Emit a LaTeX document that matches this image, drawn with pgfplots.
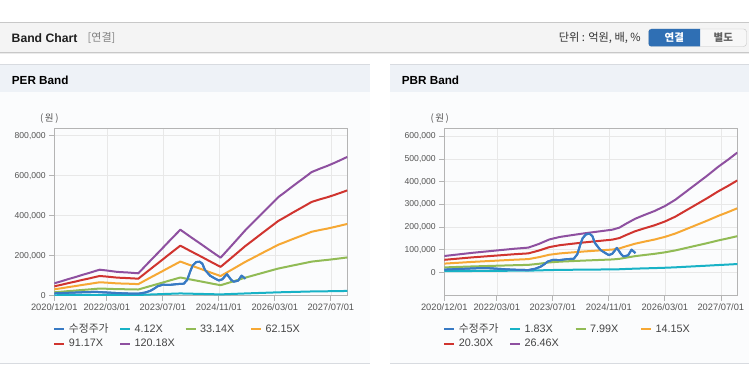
\documentclass[border=0pt]{standalone}
\usepackage{pgfplots}
\usepackage{pgfplotstable}
\pgfplotsset{compat=1.18}
\usepackage{fontspec}
\setmainfont{Liberation Sans}
\newfontfamily\kr{Noto Sans CJK KR}

\definecolor{pblue}{HTML}{387AC4}
\definecolor{pcyan}{HTML}{18B2C6}
\definecolor{pgreen}{HTML}{91BB55}
\definecolor{porange}{HTML}{F6A834}
\definecolor{pred}{HTML}{D0342F}
\definecolor{ppurple}{HTML}{8E50A0}
\definecolor{gridc}{HTML}{E8E8E8}
\definecolor{framec}{HTML}{B4B4B4}
\definecolor{tickc}{HTML}{555555}
\definecolor{legc}{HTML}{444444}
\definecolor{hdrbg}{HTML}{F4F4F4}
\definecolor{hdrline}{HTML}{C8C8C8}
\definecolor{panelhdr}{HTML}{EEF2F7}
\definecolor{panelbg}{HTML}{FBFCFD}
\definecolor{panelline}{HTML}{D8DBE0}
\definecolor{btnblue}{HTML}{2F6FB4}
\definecolor{btnborder}{HTML}{C4C4C4}

\pgfplotstableread{
m c g o r p
0 2100 17100 32100 47000 62000
2 2500 19900 37200 54600 72000
4 2800 22900 42900 63000 83000
6 3200 25600 48100 70600 93000
8 3600 28700 53800 78900 104000
10 3900 31400 59000 86500 114000
12 4300 34500 64600 94800 125000
13 4500 35800 67200 98600 130000
15 4300 34700 65200 95600 126000
18 4100 32800 61500 90300 119000
21 4000 32000 60000 88000 116000
24 3800 30900 57900 85000 112000
27 5700 46100 86400 126700 167000
30 7600 60900 114300 167700 221000
33 9500 76100 142700 209400 276000
36 11300 91000 170700 250300 330000
39 10000 80800 151500 222300 293000
42 8800 70900 132900 195000 257000
45 7500 60700 113800 166900 220000
47.5 6500 52400 98300 144100 190000
50 8200 65600 123100 180500 238000
52 9500 76400 143200 210100 277000
54.5 11200 89900 168600 247300 326000
57 12700 102000 191300 280700 370000
60 14500 116600 218800 320900 423000
62 15700 126300 236800 347400 458000
64 16900 135900 254900 374000 493000
66 17800 143100 268400 393700 519000
68 18700 150600 282400 414200 546000
70 19600 157700 295800 433900 572000
72 20500 164900 309200 453600 598000
73.5 21200 170400 319600 468800 618000
76 21800 175400 328900 482500 636000
78 22200 179000 335600 492300 649000
80 22800 183100 343400 503700 664000
82 23300 187500 351700 515900 680000
83.7 23800 191400 358900 526500 694000
}\pertable

\pgfplotstableread{
m c g o r p
0 5000 21700 38500 55200 72000
4 5500 23900 42200 60600 79000
8 5900 26000 46000 66000 86000
12 6400 27800 49200 70600 92000
16 6800 29600 52400 75200 98000
20 7200 31400 55600 79800 104000
24 7500 32900 58300 83600 109000
27 8600 37700 66800 95900 125000
30 10000 43800 77500 111200 145000
33 10800 47100 83400 119700 156000
36 11300 49200 87200 125100 163000
40 11900 51900 92000 132000 172000
44 12400 54400 96300 138100 180000
48 13000 56800 100500 144200 188000
50 13600 59500 105400 151100 197000
52 14900 64900 115000 164900 215000
54.5 16300 71300 126200 181100 236000
57 17400 76100 134800 193300 252000
60 18700 81500 144400 207100 270000
63 20200 88200 156200 224000 292000
66 22100 96600 171100 245500 320000
69 24600 107200 189800 272400 355000
72 27000 117800 208600 299200 390000
75 29400 128300 227300 326100 425000
78.3 32200 140700 249200 357500 466000
81 34300 149800 265200 380500 496000
83.7 36500 159400 282400 405100 528000
}\pbrtable

\pgfplotstableread{
m v
0 12000
3 14000
6 16000
9 18000
12 19000
14 17000
16 15000
18 13000
21 11000
24 10000
26 16000
27.5 25000
28.5 35000
29.5 47000
31 55000
33 54000
35 58000
37 60000
38 80000
38.8 120000
39.5 150000
40.5 168000
41.5 170000
42.3 160000
43 130000
44.5 100000
46 85000
47 76000
48 82000
49.3 108000
50.5 80000
51.2 70000
52.5 75000
53.5 100000
54.6 85000
}\pricetable

\pgfplotsset{
 bandaxis/.style={
  scale only axis, width=293pt, height=167.4pt, anchor=south west,
  xmin=0, xmax=83.7,
  xtick={0,15,31,47,63,79},
  xticklabels={2020/12/01,2022/03/01,2023/07/01,2024/11/01,2026/03/01,2027/07/01},
  grid=major, major grid style={draw=gridc, line width=0.6pt},
  axis line style={draw=framec, line width=0.7pt},
  tick pos=left, tick align=outside, major tick length=5pt,
  tick style={draw=framec, line width=0.7pt},
  scaled y ticks=false,
  /pgf/number format/assume math mode=true,
  yticklabel style={font=\fontsize{8.6}{10}\selectfont, text=tickc, /pgf/number format/.cd, fixed, precision=0, 1000 sep={,}, assume math mode=true},
  xticklabel style={font=\fontsize{9.3}{11}\selectfont, text=tickc},
  every axis plot/.append style={line width=2pt, line join=round, no markers},
  legend columns=4,
  legend style={at={(0,0)}, anchor=north west, xshift=-1pt, yshift=-28.8pt,
    draw=none, fill=none, inner sep=0pt, outer sep=0pt,
    font=\fontsize{10.8}{12}\selectfont,
    nodes={inner xsep=0pt, inner ysep=0pt, text width=50pt, text height=7.6pt, text depth=2pt, align=left, text=legc},
    /tikz/every odd column/.append style={column sep=3.4pt},
    row sep=5.1pt},
 }
}

\begin{document}
\begin{tikzpicture}[x=1pt,y=1pt]
\path[use as bounding box] (0,0) rectangle (749,364);
\fill[white] (0,0) rectangle (749,364);
% top header
\fill[hdrbg] (0,311.5) rectangle (749,341.5);
\draw[hdrline, line width=0.8pt] (0,341.5) -- (749,341.5);
\draw[hdrline, line width=1pt] (0,311.5) -- (749,311.5);
\draw[black!8, line width=1pt] (0,310.5) -- (749,310.5);
\node[anchor=west, inner sep=0pt, font=\bfseries\fontsize{12.2}{14}\selectfont, text=black!88] at (11.5,326) {Band Chart};
\node[anchor=west, inner sep=0pt, font=\kr\fontsize{11}{12}\selectfont, text=black!50] at (87.5,325.8) {[연결]};
\node[anchor=east, inner sep=0pt, font=\kr\fontsize{11.2}{12}\selectfont, text=black!80] at (641,325.8) {단위 : 억원, 배, \%};
\draw[fill=white!97!black, draw=btnborder, rounded corners=3pt] (648.5,317.5) rectangle (746.5,335);
\begin{scope}
\clip (640,300) rectangle (700,340);
\fill[btnblue, rounded corners=3pt] (648.5,317.5) rectangle (706,335);
\end{scope}
\node[font=\kr\bfseries\fontsize{10.5}{12}\selectfont, text=white] at (674.3,326.2) {연결};
\node[font=\kr\bfseries\fontsize{10.5}{12}\selectfont, text=black!62] at (723.3,326.2) {별도};
% panels
\foreach \xa/\xb in {0/370, 390/749}{
  \fill[panelbg] (\xa,1) rectangle (\xb,271.5);
  \fill[panelhdr] (\xa,271.5) rectangle (\xb,300);
  \draw[panelline, line width=0.8pt] (\xa,300) -- (\xb,300);
  \draw[panelline, line width=1pt] (\xa,1) -- (\xb,1);
}
\node[anchor=west, inner sep=0pt, font=\bfseries\fontsize{11.7}{14}\selectfont, text=black] at (11.7,283.5) {PER Band};
\node[anchor=west, inner sep=0pt, font=\bfseries\fontsize{11.7}{14}\selectfont, text=black] at (401.7,283.5) {PBR Band};
\node[font=\kr\fontsize{9.5}{11}\selectfont, text=tickc] at (49.3,245.7) {(\,원\,)};
\node[font=\kr\fontsize{9.5}{11}\selectfont, text=tickc] at (439.7,245.7) {(\,원\,)};

% PER axis
\begin{axis}[bandaxis, at={(54.3pt,68.3pt)},
  ymin=0, ymax=837000, ytick={0,200000,400000,600000,800000},
  legend image code/.code={\draw[#1, line width=2.2pt] (0pt,0pt) -- (10pt,0pt);}]
\addplot[pblue] table[x=m,y=v]{\pricetable}; \addlegendentry{\kr 수정주가}
\addplot[pcyan] table[x=m,y=c]{\pertable}; \addlegendentry{4.12X}
\addplot[pgreen] table[x=m,y=g]{\pertable}; \addlegendentry{33.14X}
\addplot[porange] table[x=m,y=o]{\pertable}; \addlegendentry{62.15X}
\addplot[pred] table[x=m,y=r]{\pertable}; \addlegendentry{91.17X}
\addplot[ppurple] table[x=m,y=p]{\pertable}; \addlegendentry{120.18X}
\addplot[pblue, forget plot] table[x=m,y=v]{\pricetable};
\end{axis}

% PBR axis
\begin{axis}[bandaxis, at={(444.3pt,68.3pt)},
  ymin=-103000, ymax=635000, ytick={0,100000,200000,300000,400000,500000,600000},
  legend image code/.code={\draw[#1, line width=2.2pt] (0pt,0pt) -- (10pt,0pt);}]
\addplot[pblue] table[x=m,y=v]{\pricetable}; \addlegendentry{\kr 수정주가}
\addplot[pcyan] table[x=m,y=c]{\pbrtable}; \addlegendentry{1.83X}
\addplot[pgreen] table[x=m,y=g]{\pbrtable}; \addlegendentry{7.99X}
\addplot[porange] table[x=m,y=o]{\pbrtable}; \addlegendentry{14.15X}
\addplot[pred] table[x=m,y=r]{\pbrtable}; \addlegendentry{20.30X}
\addplot[ppurple] table[x=m,y=p]{\pbrtable}; \addlegendentry{26.46X}
\addplot[pblue, forget plot] table[x=m,y=v]{\pricetable};
\end{axis}
\end{tikzpicture}
\end{document}
